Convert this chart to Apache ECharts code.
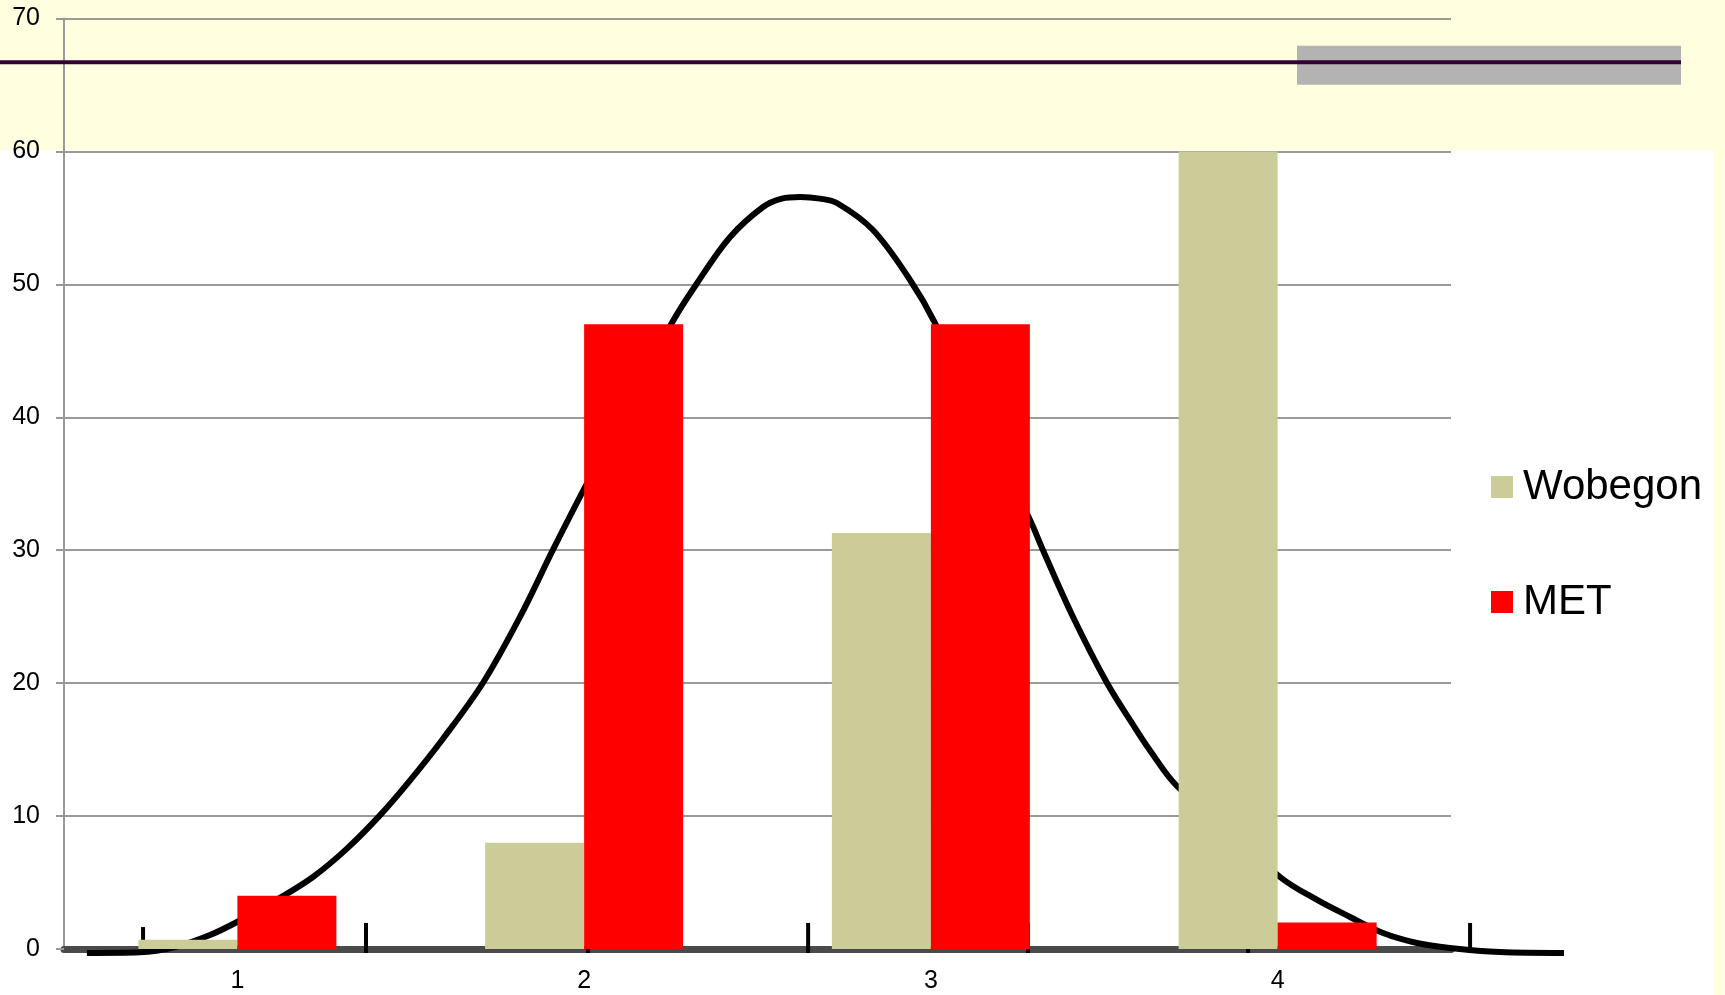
<!DOCTYPE html>
<html>
<head>
<meta charset="utf-8">
<script src="https://cdn.jsdelivr.net/npm/echarts@6/dist/echarts.min.js"></script>
<style>
  html, body { margin: 0; padding: 0; background: #FFFFE0; }
  #chart { width: 1725px; height: 995px; }
</style>
</head>
<body>
<div id="chart"></div>
<script>
// Categories and percentages per group
const categories = ['1', '2', '3', '4'];
const wobegon = [0.7, 8, 31.3, 60];
const met = [4, 47, 47, 2];

// Value axis range
const yMin = 0;
const yMax = 70;
const yStep = 10;

// Reference level drawn across the top band
const refLevel = 66.7;

// Bell curve traced as [position, value]; position 1..4 lines up with the categories
const curvePoints = [
  [0.566, -0.30], [0.719, -0.25], [0.820, 0.15], [0.921, 1.05], [0.999, 2.03],
  [1.114, 3.71], [1.218, 5.42], [1.316, 7.55], [1.411, 10.05], [1.498, 12.69],
  [1.593, 15.82], [1.708, 20.01], [1.815, 24.98], [1.910, 30.02], [2.003, 34.76],
  [2.253, 47.09], [2.326, 50.10], [2.421, 53.56], [2.516, 55.82], [2.570, 56.45],
  [2.623, 56.57], [2.680, 56.45], [2.729, 56.12], [2.833, 54.09], [2.940, 50.33],
  [3.012, 47.09], [3.286, 32.27], [3.323, 30.02], [3.410, 24.98], [3.508, 20.01],
  [3.583, 16.87], [3.632, 14.94], [3.710, 12.26], [4.007, 5.42], [4.114, 3.69],
  [4.209, 2.41], [4.304, 1.20], [4.402, 0.45], [4.497, 0.08], [4.641, -0.23],
  [4.826, -0.30]
];
// Short vertical marks under the curve: [position, top value]
const curveMarks = [
  [0.728, 1.65], [1.371, 1.96], [2.011, 1.96], [2.646, 1.96],
  [3.280, 1.96], [3.915, 1.96], [4.555, 1.96]
];
const markBase = -0.3;

// Plot geometry: four category slots of equal width starting at the y axis
const plotLeft = 64;
const slotWidth = 346.75;
const plotTop = 18.5;
const plotBottom = 46;
const curveMaxPos = 5.0; // the curve layer runs past the last slot

const FONT = "'Liberation Sans', Arial, sans-serif";
const chart = echarts.init(document.getElementById('chart'));

chart.setOption({
  backgroundColor: '#FFFFE0',
  animation: false,
  grid: [
    { left: plotLeft, right: 1725 - plotLeft - 4 * slotWidth, top: plotTop, bottom: plotBottom },
    // overlay layer for the bell curve, wider so the tails fit
    { left: plotLeft, width: (curveMaxPos - 0.5) * slotWidth, top: plotTop, bottom: plotBottom }
  ],
  legend: {
    orient: 'vertical',
    left: 1486,
    top: 457,
    icon: 'rect',
    itemWidth: 22,
    itemHeight: 22,
    itemGap: 65,
    data: ['Wobegon', 'MET'],
    textStyle: { fontFamily: FONT, fontSize: 42, color: '#000', lineHeight: 50, padding: [0, 0, 0, 5] }
  },
  xAxis: [
    {
      type: 'category',
      gridIndex: 0,
      data: categories,
      offset: 4,
      axisLine: { lineStyle: { color: '#4a4a4a', width: 7 } },
      axisTick: { show: false },
      axisLabel: { fontFamily: FONT, fontSize: 25, color: '#000', margin: 16 },
      splitLine: { show: false }
    },
    {
      type: 'value',
      gridIndex: 1,
      min: 0.5,
      max: curveMaxPos,
      show: false,
      splitLine: { show: false }
    }
  ],
  yAxis: [
    {
      type: 'value',
      gridIndex: 0,
      min: yMin,
      max: yMax,
      interval: yStep,
      axisLine: { show: true, lineStyle: { color: '#999', width: 2 } },
      axisTick: { show: true, length: 8, lineStyle: { color: '#999', width: 2 } },
      axisLabel: { fontFamily: FONT, fontSize: 25, color: '#000', margin: 24 },
      splitLine: { show: true, lineStyle: { color: '#9a9a9a', width: 2 } }
    },
    {
      type: 'value',
      gridIndex: 1,
      min: yMin,
      max: yMax,
      interval: yStep,
      show: false,
      splitLine: { show: false }
    }
  ],
  series: [
    {
      name: 'curve',
      type: 'line',
      xAxisIndex: 1,
      yAxisIndex: 1,
      data: curvePoints,
      showSymbol: false,
      symbol: 'none',
      clip: false,
      smooth: 0.35,
      z: 1,
      lineStyle: { color: '#000', width: 6 },
      silent: true
    },
    {
      name: 'marks',
      type: 'custom',
      xAxisIndex: 1,
      yAxisIndex: 1,
      data: curveMarks,
      z: 1,
      silent: true,
      renderItem: function (params, api) {
        const p0 = api.coord([api.value(0), markBase]);
        const p1 = api.coord([api.value(0), api.value(1)]);
        return {
          type: 'line',
          shape: { x1: p0[0], y1: p0[1], x2: p1[0], y2: p1[1] },
          style: { stroke: '#000', lineWidth: 4 }
        };
      }
    },
    {
      name: 'Wobegon',
      type: 'bar',
      data: wobegon,
      barWidth: 99,
      barGap: '0%',
      z: 3,
      itemStyle: { color: '#CCCC99' }
    },
    {
      name: 'MET',
      type: 'bar',
      data: met,
      barWidth: 99,
      barGap: '0%',
      z: 3,
      itemStyle: { color: '#FF0000' }
    }
  ]
});

// Background panels, reference level and its grey band
const refY = chart.convertToPixel({ yAxisIndex: 0 }, refLevel);
chart.setOption({
  graphic: [
    {
      type: 'rect',
      z: -10,
      silent: true,
      shape: { x: 0, y: 150, width: 1713, height: 845 },
      style: { fill: '#FFFFFF' }
    },
    {
      type: 'rect',
      z: 50,
      silent: true,
      shape: { x: 1297, y: refY - 16.5, width: 384, height: 39 },
      style: { fill: '#B3B3B3' }
    },
    {
      type: 'line',
      z: 51,
      silent: true,
      shape: { x1: 0, y1: refY, x2: 1681, y2: refY },
      style: { stroke: '#330033', lineWidth: 4 }
    }
  ]
});
</script>
</body>
</html>
